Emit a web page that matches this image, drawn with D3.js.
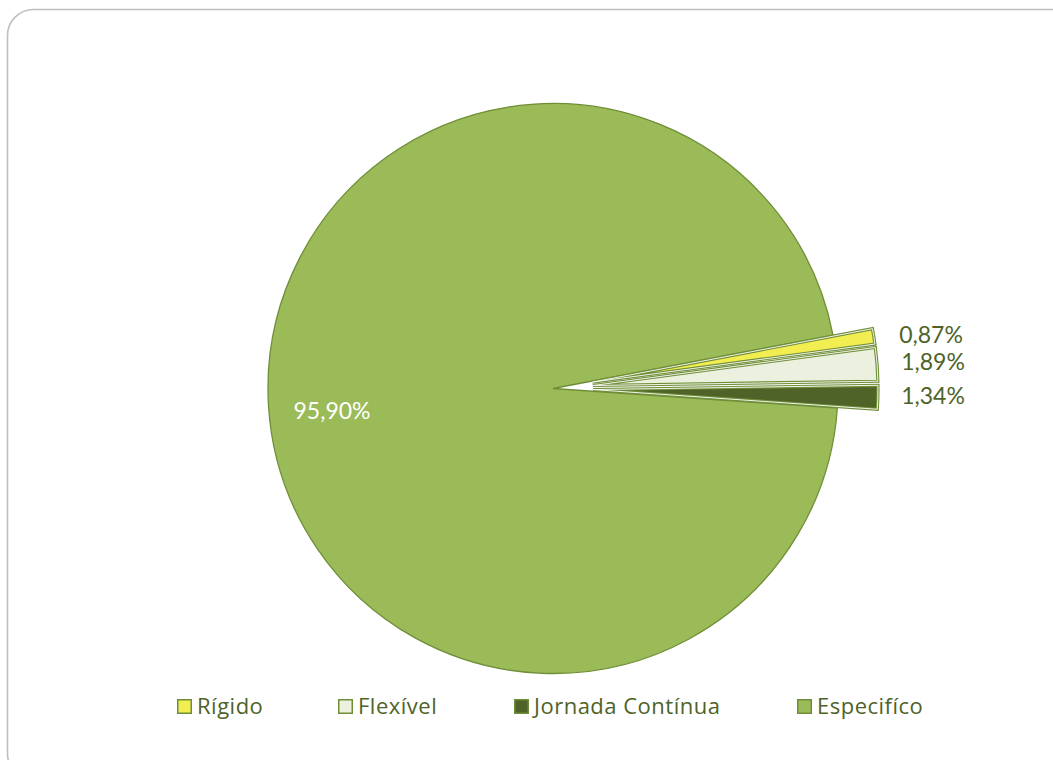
<!DOCTYPE html>
<html>
<head>
<meta charset="utf-8">
<script src="https://cdn.jsdelivr.net/npm/d3@7"></script>
<style>
  html, body { margin: 0; padding: 0; background: #fff; }
  svg { display: block; }
  .val { font-family: Lato, "Open Sans", sans-serif; }
  .leg { font-family: "Open Sans", Lato, sans-serif; }
</style>
</head>
<body>
<svg id="chart" width="1053" height="760"></svg>
<script>
// Horário de trabalho: distribuição por tipo
const categories = ["Rígido", "Flexível", "Jornada Contínua", "Específico"];
const legendLabels = ["Rígido", "Flexível", "Jornada Contínua", "Especifíco"];
const values = [0.87, 1.89, 1.34, 95.90];
const valueLabels = ["0,87%", "1,89%", "1,34%", "95,90%"];
const exploded = [true, true, true, false];
const colors = ["#f2ee52", "#ebf1de", "#4f6228", "#9bbb59"];

const svg = d3.select("#chart");

// card frame (continues past right and bottom edges)
svg.append("rect")
  .attr("x", 7.5).attr("y", 9.5)
  .attr("width", 1070).attr("height", 770)
  .attr("rx", 26).attr("ry", 26)
  .attr("fill", "#fff")
  .attr("stroke", "#bfbfbf")
  .attr("stroke-width", 1.6);

const cx = 553, cy = 388.5, R = 285, explode = 40;
const startDeg = 79.2;

const pie = d3.pie()
  .sort(null)
  .value(d => d)
  .startAngle(startDeg * Math.PI / 180)
  .endAngle((startDeg + 360) * Math.PI / 180);

const arcs = pie(values);
const arc = d3.arc().innerRadius(0).outerRadius(R);

const g = svg.append("g").attr("transform", `translate(${cx},${cy})`);

function offset(d, i) {
  if (!exploded[i]) return [0, 0];
  const mid = (d.startAngle + d.endAngle) / 2;
  return [Math.sin(mid) * explode, -Math.cos(mid) * explode];
}

// big slice first, then the exploded ones on top
const order = [3, 0, 1, 2];
order.forEach(i => {
  const d = arcs[i];
  const [dx, dy] = offset(d, i);
  const sg = g.append("g").attr("transform", `translate(${dx},${dy})`);
  if (exploded[i]) {
    sg.append("path")
      .attr("d", arc(d))
      .attr("fill", colors[i])
      .attr("stroke", "#6f8e37")
      .attr("stroke-width", 3.2)
      .attr("stroke-linejoin", "miter");
    sg.append("path")
      .attr("d", arc(d))
      .attr("fill", "none")
      .attr("stroke", "#ffffff")
      .attr("stroke-width", 0.9)
      .attr("stroke-linejoin", "miter");
  } else {
    sg.append("path")
      .attr("d", arc(d))
      .attr("fill", colors[i])
      .attr("stroke", "#6f8e37")
      .attr("stroke-width", 1.3);
  }
});

// value labels
const outerPos = [[931, 343], [933, 370], [933, 404]];
[0, 1, 2].forEach(i => {
  svg.append("text")
    .attr("class", "val")
    .attr("x", outerPos[i][0]).attr("y", outerPos[i][1])
    .attr("text-anchor", "middle")
    .attr("font-size", 23)
    .attr("fill", "#4f6228")
    .text(valueLabels[i]);
});
svg.append("text")
  .attr("class", "val")
  .attr("x", 332).attr("y", 419)
  .attr("text-anchor", "middle")
  .attr("font-size", 23)
  .attr("fill", "#ffffff")
  .text(valueLabels[3]);

// legend
const legendX = [177, 338, 514, 797];
const legend = svg.append("g");
categories.forEach((c, i) => {
  const lg = legend.append("g").attr("transform", `translate(${legendX[i]},699)`);
  lg.append("rect")
    .attr("x", 0.75).attr("y", 0.75)
    .attr("width", 13.5).attr("height", 13.5)
    .attr("fill", colors[i])
    .attr("stroke", "#6f8e37")
    .attr("stroke-width", 1.5);
  lg.append("text")
    .attr("class", "leg")
    .attr("x", 20).attr("y", 15)
    .attr("font-size", 22)
    .attr("letter-spacing", 0.5)
    .attr("fill", "#4f6228")
    .text(legendLabels[i]);
});
</script>
</body>
</html>
